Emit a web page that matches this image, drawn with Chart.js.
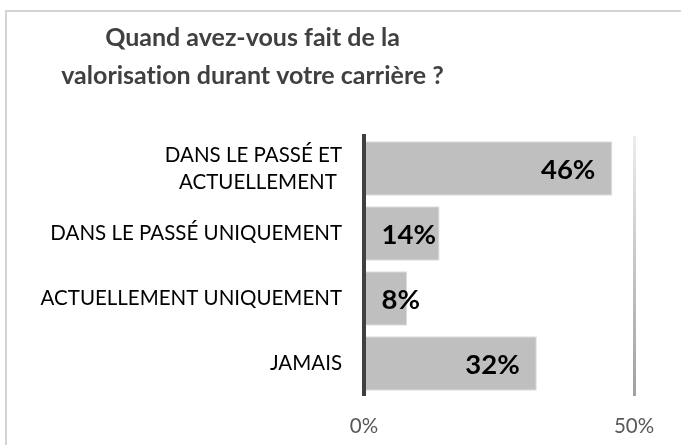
<!DOCTYPE html>
<html>
<head>
<meta charset="utf-8">
<script src="https://cdn.jsdelivr.net/npm/chart.js@4.4.1/dist/chart.umd.min.js"></script>
<style>
  body { margin: 0; background: #fff; }
</style>
</head>
<body>
<canvas id="mycanvas" width="681" height="445"></canvas>
<script>
// donnees
var categories = [
	['DANS LE PASSÉ ET', 'ACTUELLEMENT '],
	'DANS LE PASSÉ UNIQUEMENT',
	'ACTUELLEMENT UNIQUEMENT',
	'JAMAIS'
];
var valeurs = [46, 14, 8, 32];
var titre = ['Quand avez-vous fait de la', 'valorisation durant votre carrière ?'];
var xMin = 0;
var xMax = 50;
var xPas = 50;

// cadre gris autour du graphique
var cadre = {
	id: 'cadre',
	beforeDraw: function(chart) {
		var ctx = chart.ctx;
		ctx.save();
		ctx.strokeStyle = '#d4d4d4';
		ctx.lineWidth = 2;
		ctx.strokeRect(6, 11, 720, 480);
		ctx.restore();
		// pas de ligatures (ti) dans le titre
		ctx.textRendering = 'optimizeSpeed';
	},
	afterLayout: function(chart) {
		// le titre est centre sur la partie gauche
		chart.titleBlock.left = 5;
		chart.titleBlock.right = 500;
	}
};

// etiquettes de valeur sur les barres
var etiquettes = {
	id: 'etiquettes',
	afterDatasetsDraw: function(chart) {
		var ctx = chart.ctx;
		var meta = chart.getDatasetMeta(0);
		ctx.save();
		ctx.font = 'bold 27.5px Lato';
		ctx.fillStyle = '#000';
		ctx.textAlign = 'right';
		ctx.textBaseline = 'middle';
		meta.data.forEach(function(bar, i) {
			var txt = Math.round(valeurs[i]) + '%';
			var w = ctx.measureText(txt).width;
			var x = Math.max(bar.x - 17, bar.base + 16 + w);
			ctx.fillText(txt, x, bar.y + 2);
		});
		ctx.restore();
	}
};

var chartdata = {
	labels: categories,
	datasets: [
		{
			data: valeurs,
			backgroundColor: '#bfbfbf',
			borderColor: '#dedede',
			borderWidth: 1,
			barPercentage: 0.84,
			categoryPercentage: 1
		}
	]
};

var ctx = document.getElementById('mycanvas');

var barGraph = new Chart(ctx, {
	type: 'bar',
	data: chartdata,
	plugins: [cadre, etiquettes],
	options: {
		indexAxis: 'y',
		responsive: false,
		animation: false,
		layout: { padding: { left: 0, right: 47, top: 0, bottom: 0 } },
		plugins: {
			legend: { display: false },
			tooltip: { enabled: false },
			title: {
				display: true,
				text: titre,
				color: '#404040',
				font: { family: 'Lato', size: 25, weight: 'bold', lineHeight: 1.52 },
				padding: { top: 19, bottom: 41 }
			}
		},
		scales: {
			x: {
				min: xMin,
				max: xMax,
				afterFit: function(scale) { scale.height = 49; },
				ticks: {
					stepSize: xPas,
					color: '#595959',
					font: { family: 'Lato', size: 20.5 },
					padding: 18,
					callback: function(v) { return v + '%'; }
				},
				grid: {
					drawTicks: false,
					lineWidth: 3,
					color: function(c) {
						var area = c.chart.chartArea;
						if (!area) return '#c0c0c0';
						var g = c.chart.ctx.createLinearGradient(0, area.top, 0, area.bottom);
						g.addColorStop(0, '#ececec');
						g.addColorStop(1, '#a0a0a0');
						return g;
					}
				},
				border: { display: false }
			},
			y: {
				afterFit: function(scale) { scale.width = 364; },
				ticks: {
					color: '#000',
					font: { family: 'Lato', size: 20.5, lineHeight: 1.32 },
					padding: 22
				},
				grid: { display: false, drawTicks: false },
				border: { display: true, color: '#404040', width: 4, z: 1 }
			}
		}
	}
});
</script>
</body>
</html>
